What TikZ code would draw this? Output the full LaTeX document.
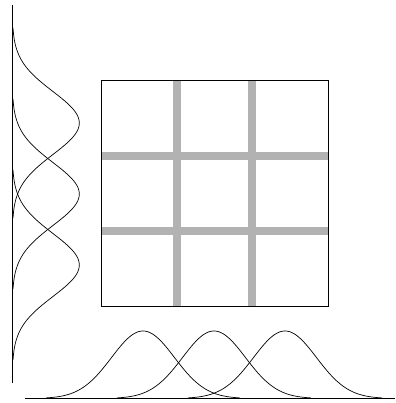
\documentclass[tikz,border=0pt]{standalone}
\begin{document}
\begin{tikzpicture}[x=1pt,y=-1pt,
  axis/.style={line width=1.2pt},
  curve/.style={line width=0.7pt},
  gridband/.style={line width=8pt, black!30},
  frame/.style={line width=0.9pt}]
\useasboundingbox (0,0) rectangle (395,403);
% gray bands
\draw[gridband] (177,80) -- (177,306.5);
\draw[gridband] (252,80) -- (252,306.5);
\draw[gridband] (101,156) -- (328,156);
\draw[gridband] (101,231) -- (328,231);
% square
\draw[frame] (101,80) rectangle (328,306.5);
% axes
\draw[axis] (12.3,5) -- (12.3,383);
\draw[axis] (25,398.5) -- (395,398.5);
% bottom gaussians
\foreach \c in {143,214,285}
  \draw[curve] plot[domain=\c-97:\c+97, samples=120, smooth]
    (\x, {398.5-67.5*exp(-((\x-\c)^2)/1984.5)});
% left gaussians
\foreach \c in {123,194,265}
  \draw[curve] plot[domain=\c-95:\c+95, samples=120, smooth]
    ({12.3+67*exp(-((\x-\c)^2)/1984.5)}, \x);
\end{tikzpicture}
\end{document}
